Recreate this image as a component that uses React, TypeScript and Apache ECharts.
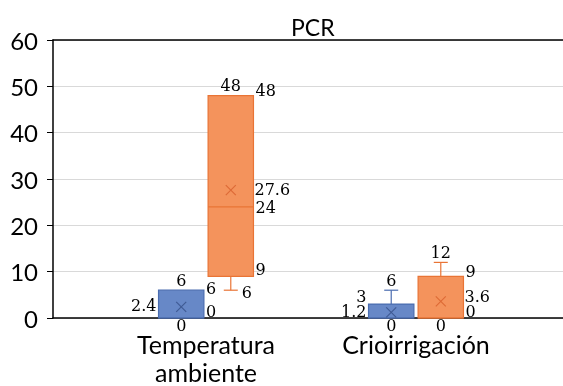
import React, { useEffect, useRef } from 'react';
import * as echarts from 'echarts';

const titleText = 'PCR';
const categories = ['Temperatura\nambiente', 'Crioirrigación'];
const seriesNames = ['Serie 1', 'Serie 2'];
const yMin = 0;
const yMax = 60;
const yStep = 10;

const blueMin = [0, 0];
const blueQ1 = [0, 0];
const blueMedian = [0, 0];
const blueQ3 = [6, 3];
const blueMax = [6, 6];
const blueMean = [2.4, 1.2];

const orangeMin = [6, 0];
const orangeQ1 = [9, 0];
const orangeMedian = [24, 0];
const orangeQ3 = [48, 9];
const orangeMax = [48, 12];
const orangeMean = [27.6, 3.6];

const LABEL_FONT = '16px "DejaVu Serif"';

function buildData(mn: number[], q1: number[], md: number[], q3: number[], mx: number[], mean: number[]) {
  return categories.map((_, i) => [i, mn[i], q1[i], md[i], q3[i], mx[i], mean[i]]);
}

function txt(text: string, x: number, y: number, align: string, lh = 12) {
  return {
    type: 'text',
    x,
    y,
    style: { text, font: LABEL_FONT, fill: '#000', align, verticalAlign: 'middle', lineHeight: lh },
  };
}

function makeRender(side: number, fill: string, stroke: string, meanColor: string, otherQ1: number[]) {
  return (params: any, api: any) => {
    const cat = api.value(0);
    const mn = api.value(1);
    const q1 = api.value(2);
    const md = api.value(3);
    const q3 = api.value(4);
    const mx = api.value(5);
    const mean = api.value(6);
    const band = api.size([1, 0])[0];
    const cx = api.coord([cat, 0])[0] + side * band * 0.118;
    const hw = band * 0.108;
    const y = (v: number) => api.coord([cat, v])[1];
    const capHw = 7;
    const ls = { stroke, lineWidth: 1.2 };
    const children: any[] = [];
    if (mx > q3) {
      children.push({ type: 'line', shape: { x1: cx, y1: y(q3), x2: cx, y2: y(mx) }, style: ls });
      children.push({ type: 'line', shape: { x1: cx - capHw, y1: y(mx), x2: cx + capHw, y2: y(mx) }, style: ls });
    }
    if (mn < q1) {
      children.push({ type: 'line', shape: { x1: cx, y1: y(q1), x2: cx, y2: y(mn) }, style: ls });
      children.push({ type: 'line', shape: { x1: cx - capHw, y1: y(mn), x2: cx + capHw, y2: y(mn) }, style: ls });
    }
    children.push({
      type: 'rect',
      shape: { x: cx - hw, y: y(q3), width: hw * 2, height: y(q1) - y(q3) },
      style: { fill, stroke, lineWidth: 1.2 },
    });
    children.push({ type: 'line', shape: { x1: cx - hw, y1: y(md), x2: cx + hw, y2: y(md) }, style: ls });
    const ym = y(mean);
    const s = 5;
    const ms = { stroke: meanColor, lineWidth: 1.2 };
    children.push({ type: 'line', shape: { x1: cx - s, y1: ym - s, x2: cx + s, y2: ym + s }, style: ms });
    children.push({ type: 'line', shape: { x1: cx - s, y1: ym + s, x2: cx + s, y2: ym - s }, style: ms });

    const right = cx + hw + 2;
    const left = cx - hw - 2;
    children.push(txt(String(mx), cx, y(mx) - 10, 'center'));
    if (mn < q1) children.push(txt(String(mn), cx + capHw + 4, y(mn) + 2, 'left'));
    else children.push(txt(String(mn), cx, y(mn) + 7, 'center', 10));
    if (side < 0) {
      const oq1 = otherQ1[cat];
      if (oq1 > q3) children.push(txt(String(q3), right, y(q3) - 2, 'left'));
      else children.push(txt(String(q3), left, y(q3) - 8, 'right'));
      if (oq1 > q1) children.push(txt(String(q1), right, y(q1) - 7, 'left'));
      if (md !== q1 && md !== q3) children.push(txt(String(md), right, y(md) + 1, 'left'));
      children.push(txt(String(mean), left, ym - 1, 'right'));
    } else {
      const q1y = y(q1) - 7;
      children.push(txt(String(q3), right, y(q3) - 5, 'left'));
      if (md !== q1 && md !== q3) children.push(txt(String(md), right, y(md) + 1, 'left'));
      children.push(txt(String(q1), right, q1y, 'left'));
      children.push(txt(String(mean), right - 1, Math.min(ym - 1, q1y - 15), 'left'));
    }
    return { type: 'group', children };
  };
}

export default function App() {
  const ref = useRef<HTMLDivElement>(null);
  useEffect(() => {
    if (!ref.current) return;
    const chart = echarts.init(ref.current, undefined, { renderer: 'svg' });
    const axisFont = { fontFamily: 'Lato', color: '#000' };
    chart.setOption({
      animation: false,
      title: {
        text: titleText,
        left: 286,
        top: 10,
        textStyle: { fontFamily: 'Lato', fontSize: 23, fontWeight: 'normal', color: '#000' },
      },
      grid: [
        { left: 53, right: 0, top: 40, bottom: 68 },
        { left: 101, right: 42, top: 40, bottom: 68 },
      ],
      xAxis: [
        {
          gridIndex: 0, type: 'value', min: 0, max: 1,
          axisLine: { show: true, onZero: false, lineStyle: { color: '#000', width: 1.5 } },
          axisTick: { show: false }, axisLabel: { show: false }, splitLine: { show: false },
        },
        {
          gridIndex: 0, type: 'value', min: 0, max: 1, position: 'top',
          axisLine: { show: true, onZero: false, lineStyle: { color: '#000', width: 1.5 } },
          axisTick: { show: false }, axisLabel: { show: false }, splitLine: { show: false },
        },
        {
          gridIndex: 1, type: 'category', data: categories,
          axisLine: { show: false }, axisTick: { show: false }, splitLine: { show: false },
          axisLabel: { ...axisFont, fontSize: 25, margin: 12, lineHeight: 28, interval: 0 },
        },
      ],
      yAxis: [
        {
          gridIndex: 0, type: 'value', min: yMin, max: yMax, interval: yStep,
          axisLine: { show: true, lineStyle: { color: '#000', width: 1.5 } },
          axisTick: { show: true, length: 6, lineStyle: { color: '#000' } },
          axisLabel: { ...axisFont, fontSize: 24, margin: 15 },
          splitLine: { show: true, lineStyle: { color: '#d9d9d9', width: 1 } },
        },
        {
          gridIndex: 1, type: 'value', min: yMin, max: yMax, show: false,
        },
      ],
      series: [
        {
          name: seriesNames[0], type: 'custom', xAxisIndex: 2, yAxisIndex: 1,
          renderItem: makeRender(-1, '#6788C7', '#4A6CB0', '#3F5A94', orangeQ1),
          encode: { x: 0, y: [1, 2, 3, 4, 5, 6] },
          data: buildData(blueMin, blueQ1, blueMedian, blueQ3, blueMax, blueMean),
        },
        {
          name: seriesNames[1], type: 'custom', xAxisIndex: 2, yAxisIndex: 1,
          renderItem: makeRender(1, '#F4935C', '#E97435', '#DD6A36', blueQ1),
          encode: { x: 0, y: [1, 2, 3, 4, 5, 6] },
          data: buildData(orangeMin, orangeQ1, orangeMedian, orangeQ3, orangeMax, orangeMean),
        },
      ],
    });
    return () => chart.dispose();
  }, []);
  return <div ref={ref} style={{ position: 'fixed', left: 0, top: 0, width: 563, height: 386 }} />;
}
